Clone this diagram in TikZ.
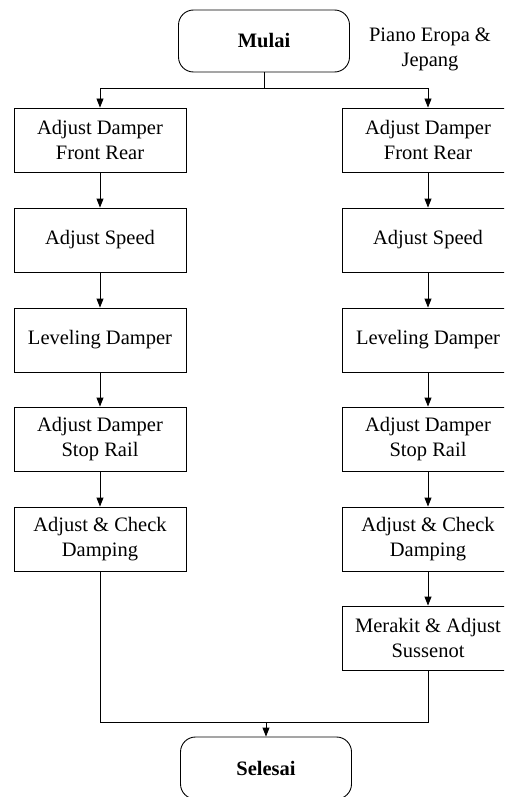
\documentclass[tikz,border=0pt]{standalone}
\usepackage{fontspec}
\setmainfont{Liberation Serif}
\usetikzlibrary{arrows.meta}
\begin{document}
\begin{tikzpicture}[x=1pt,y=-1pt,
  every node/.style={font=\fontsize{20.5}{25}\selectfont, inner sep=0pt, align=center},
  stepbox/.style={draw, line width=0.9pt, minimum width=172pt, minimum height=64pt},
  termbox/.style={draw, line width=0.9pt, rounded corners=15pt, minimum width=171pt, minimum height=62pt, font=\fontsize{20.5}{25}\selectfont\bfseries},
  conn/.style={line width=0.9pt},
  arr/.style={conn, -{Triangle[length=9pt,width=7pt]}}]
\clip (0,0) rectangle (504,797);
\fill[white] (0,0) rectangle (504,797);
\node[termbox] (mulai) at (264,41) {Mulai};
\node (note) at (430,49) {Piano Eropa \&\\Jepang};
\node[stepbox] (L1) at (100,140) {Adjust Damper\\Front Rear};
\node[stepbox] (L2) at (100,240) {Adjust Speed};
\node[stepbox] (L3) at (100,340) {Leveling Damper};
\node[stepbox] (L4) at (100,439) {Adjust Damper\\Stop Rail};
\node[stepbox] (L5) at (100,539) {Adjust \& Check\\Damping};
\node[stepbox] (R1) at (428,140) {Adjust Damper\\Front Rear};
\node[stepbox] (R2) at (428,240) {Adjust Speed};
\node[stepbox] (R3) at (428,340) {Leveling Damper};
\node[stepbox] (R4) at (428,439) {Adjust Damper\\Stop Rail};
\node[stepbox] (R5) at (428,539) {Adjust \& Check\\Damping};
\node[stepbox] (R6) at (428,638) {Merakit \& Adjust\\Sussenot};
\node[termbox] (selesai) at (266,768) {Selesai};
\coordinate (split) at (264,88);
\coordinate (merge) at (266,722);
\draw[conn] (mulai.south) -- (split);
\draw[arr] (split) -| (L1.north);
\draw[arr] (split) -| (R1.north);
\draw[arr] (L1) -- (L2);
\draw[arr] (L2) -- (L3);
\draw[arr] (L3) -- (L4);
\draw[arr] (L4) -- (L5);
\draw[arr] (R1) -- (R2);
\draw[arr] (R2) -- (R3);
\draw[arr] (R3) -- (R4);
\draw[arr] (R4) -- (R5);
\draw[arr] (R5) -- (R6);
\draw[conn] (L5.south) |- (merge);
\draw[conn] (R6.south) |- (merge);
\draw[arr] (merge) -- (selesai.north);
\end{tikzpicture}
\end{document}
